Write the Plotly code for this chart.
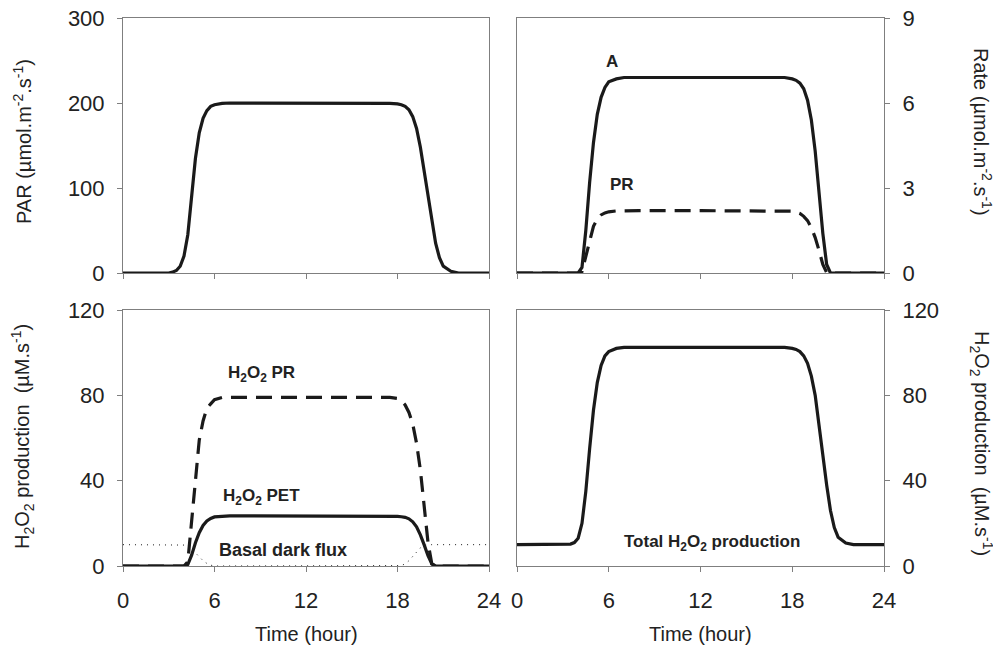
import plotly.graph_objects as go

# time grid (hour)
T = [0, 1, 2, 3, 3.25, 3.5, 3.75, 4, 4.25, 4.5, 4.75, 5, 5.25, 5.5, 5.75, 6, 6.5, 7, 8, 12,
     16, 17, 17.5, 18, 18.25, 18.5, 18.75, 19, 19.25, 19.5, 19.75, 20, 20.25, 20.5, 20.75, 21,
     21.5, 22, 23, 24]

PAR = [0, 0, 0, 0, 1, 3, 8, 20, 45, 90, 135, 165, 182, 191, 196, 198, 199.5, 200, 200, 200,
       200, 200, 199.5, 199, 198, 196, 192, 184, 170, 148, 120, 90, 60, 35, 18, 8,
       2, 0, 0, 0]

A_rate = [0, 0, 0, 0, 0, 0, 0, 0, 0.2, 1.5, 3.2, 4.6, 5.6, 6.2, 6.55, 6.75, 6.85, 6.9, 6.9, 6.9,
          6.9, 6.9, 6.9, 6.85, 6.8, 6.7, 6.5, 6.1, 5.4, 4.3, 2.9, 1.4, 0.3, 0, 0, 0,
          0, 0, 0, 0]

PR_rate = [0, 0, 0, 0, 0, 0, 0, 0, 0.05, 0.6, 1.2, 1.65, 1.9, 2.05, 2.12, 2.16, 2.19, 2.2, 2.2, 2.2,
           2.2, 2.2, 2.19, 2.18, 2.15, 2.1, 2.0, 1.85, 1.6, 1.25, 0.8, 0.3, 0.02, 0, 0, 0,
           0, 0, 0, 0]

H2O2_PR = [0, 0, 0, 0, 0, 0, 0, 0, 2, 22, 43, 59, 68, 74, 76, 78, 79, 79, 79, 79,
           79, 79, 79, 78.5, 77.5, 75.5, 72, 66.5, 57.5, 45, 29, 11, 1, 0, 0, 0,
           0, 0, 0, 0]

H2O2_PET = [0, 0, 0, 0, 0, 0, 0, 0, 0.7, 5.1, 10.9, 15.6, 19, 21.1, 22.3, 23, 23.3, 23.5, 23.5, 23.5,
            23.5, 23.5, 23.5, 23.3, 23.1, 22.8, 22.1, 20.7, 18.4, 14.6, 9.9, 4.8, 1.0, 0, 0, 0,
            0, 0, 0, 0]

BASAL = [10, 10, 10, 10, 10, 10, 10, 10, 9.8, 8, 6, 4, 2.5, 1.2, 0.4, 0, 0, 0, 0, 0,
         0, 0, 0, 0, 0.2, 1, 2.5, 4.5, 6.5, 8.5, 9.6, 10, 10, 10, 10, 10,
         10, 10, 10, 10]

TOTAL = [10, 10, 10, 10, 10, 10.3, 11, 13, 20, 35, 55, 73, 86, 94, 98.5, 100.5, 102, 102.5, 102.5, 102.5,
         102.5, 102.5, 102.5, 102, 101.5, 100.5, 98.5, 95, 89, 80, 67, 52, 38, 26, 18, 13.5,
         10.8, 10, 10, 10]

X_TICKS = [0, 6, 12, 18, 24]
PAR_TICKS = [0, 100, 200, 300]
RATE_TICKS = [0, 3, 6, 9]
H2O2_TICKS = [0, 40, 80, 120]

# the page body has an 8 px margin; size the figure to fill the rest of the window
OFF = 8
W, H = 1001 - OFF, 648 - OFF
FONT = "Liberation Sans, Arial, sans-serif"
INK = "#1a1a1a"
AX = "#7f7f7f"

def px(x):
    return (x - OFF) / W

def py(y):
    return 1 - (y - OFF) / H

fig = go.Figure()

solid = dict(color=INK, width=3.2)
dashed = dict(color=INK, width=3.2, dash="16px,9px")
dotted = dict(color=INK, width=1, dash="1px,5px")

fig.add_trace(go.Scatter(x=T, y=PAR, mode="lines", line=solid, xaxis="x", yaxis="y"))
fig.add_trace(go.Scatter(x=T, y=PR_rate, mode="lines", line=dashed, xaxis="x2", yaxis="y2"))
fig.add_trace(go.Scatter(x=T, y=A_rate, mode="lines", line=solid, xaxis="x2", yaxis="y2"))
fig.add_trace(go.Scatter(x=T, y=BASAL, mode="lines", line=dotted, xaxis="x3", yaxis="y3"))
fig.add_trace(go.Scatter(x=T, y=H2O2_PR, mode="lines", line=dashed, xaxis="x3", yaxis="y3"))
fig.add_trace(go.Scatter(x=T, y=H2O2_PET, mode="lines", line=solid, xaxis="x3", yaxis="y3"))
fig.add_trace(go.Scatter(x=T, y=TOTAL, mode="lines", line=solid, xaxis="x4", yaxis="y4"))

xl = [px(123), px(489)]
xr = [px(517), px(884)]
yt = [py(273), py(18)]
yb = [py(566), py(310)]

tickfont = dict(family=FONT, size=22, color="#222")

def xax(dom, anchor, labels):
    return dict(domain=dom, anchor=anchor, range=[0, 24], tickvals=X_TICKS,
                showticklabels=labels, ticks="outside", ticklen=5, tickcolor=AX,
                ticklabelstandoff=10, automargin=False, ticklabeloverflow="allow",
                showline=True, linecolor=AX, linewidth=1, mirror=True,
                showgrid=False, zeroline=False, tickfont=tickfont)

def yax(dom, anchor, rng, tv, side):
    return dict(domain=dom, anchor=anchor, range=rng, tickvals=tv, side=side,
                ticks="outside", ticklen=5, tickcolor=AX,
                ticklabelstandoff=8, automargin=False, ticklabeloverflow="allow",
                showline=True, linecolor=AX, linewidth=1, mirror=True,
                showgrid=False, zeroline=False, tickfont=tickfont)

fig.update_layout(
    template="none",
    width=W, height=H, margin=dict(l=0, r=0, t=0, b=0, pad=0),
    paper_bgcolor="white", plot_bgcolor="white", showlegend=False,
    font=dict(family=FONT, color="#222"),
    xaxis=xax(xl, "y", False),
    yaxis=yax(yt, "x", [0, 300], PAR_TICKS, "left"),
    xaxis2=xax(xr, "y2", False),
    yaxis2=yax(yt, "x2", [0, 9], RATE_TICKS, "right"),
    xaxis3=xax(xl, "y3", True),
    yaxis3=yax(yb, "x3", [0, 120], H2O2_TICKS, "left"),
    xaxis4=xax(xr, "y4", True),
    yaxis4=yax(yb, "x4", [0, 120], H2O2_TICKS, "right"),
)

tfont = dict(family=FONT, size=20, color="#222")
bfont = dict(family=FONT, size=17, color="#222")
ann = []
def paper_ann(text, x, y, angle=0, font=tfont):
    ann.append(dict(text=text, x=px(x), y=py(y), xref="paper", yref="paper",
                    showarrow=False, textangle=angle, font=font,
                    xanchor="center", yanchor="middle"))

paper_ann("PAR (µmol.m<sup>-2</sup>.s<sup>-1</sup>)", 22, 142, -90)
paper_ann("H<sub>2</sub>O<sub>2</sub> production  (µM.s<sup>-1</sup>)", 22, 437, -90)
paper_ann("Rate (µmol.m<sup>-2</sup>.s<sup>-1</sup>)", 982, 132, 90)
paper_ann("H<sub>2</sub>O<sub>2</sub> production  (µM.s<sup>-1</sup>)", 982, 443, 90)
paper_ann("Time (hour)", 306, 634)
paper_ann("Time (hour)", 700, 634)

paper_ann("<b>A</b>", 612, 62, 0, bfont)
paper_ann("<b>PR</b>", 622, 184, 0, bfont)
paper_ann("<b>H<sub>2</sub>O<sub>2</sub> PR</b>", 261, 374, 0, bfont)
paper_ann("<b>H<sub>2</sub>O<sub>2</sub> PET</b>", 261, 497, 0, bfont)
paper_ann("<b>Basal dark flux</b>", 283, 550, 0, dict(bfont, size=18))
paper_ann("<b>Total H<sub>2</sub>O<sub>2</sub> production</b>", 712, 543, 0, bfont)

fig.update_layout(annotations=ann)
fig.write_html("out.html")
